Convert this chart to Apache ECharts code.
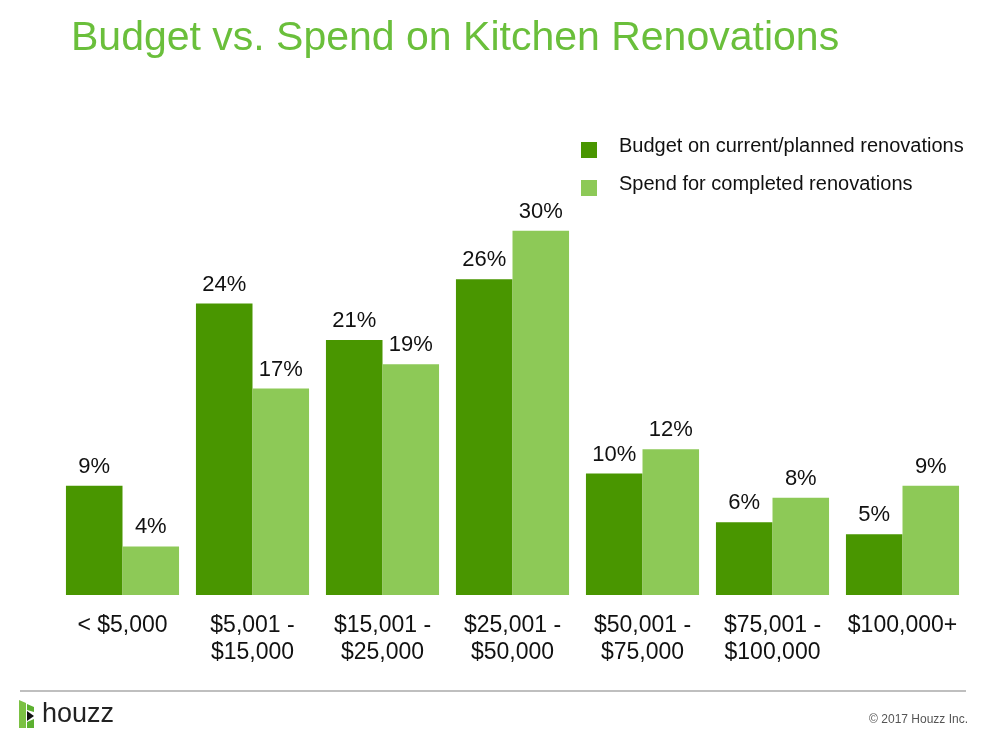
<!DOCTYPE html>
<html>
<head>
<meta charset="utf-8">
<title>Budget vs. Spend on Kitchen Renovations</title>
<script src="https://cdn.jsdelivr.net/npm/echarts@6/dist/echarts.min.js"></script>
<style>
  html, body { margin: 0; padding: 0; background: #fff; }
  #chart { width: 990px; height: 732px; }
</style>
</head>
<body>
<div id="chart"></div>
<script>
// categories and values
var categories = ['< $5,000', '$5,001 -\n$15,000', '$15,001 -\n$25,000', '$25,001 -\n$50,000',
  '$50,001 -\n$75,000', '$75,001 -\n$100,000', '$100,000+']
var budget = [9, 24, 21, 26, 10, 6, 5]
var spend = [4, 17, 19, 30, 12, 8, 9]
var seriesNames = ['Budget on current/planned renovations', 'Spend for completed renovations']

var darkGreen = '#499600'
var lightGreen = '#8dc957'
var font = 'Liberation Sans, Arial, sans-serif'

var chart = echarts.init(document.getElementById('chart'))

function barSeries(name, data, color) {
  return {
    name: name,
    type: 'bar',
    data: data,
    barGap: '0%',
    barCategoryGap: '13%',
    itemStyle: { color: color },
    label: {
      show: true,
      position: 'top',
      distance: 8,
      formatter: '{c}%',
      color: '#111',
      fontSize: 22,
      fontFamily: font
    }
  }
}

chart.setOption({
  animation: false,
  title: {
    text: 'Budget vs. Spend on Kitchen Renovations',
    left: 66,
    top: 13,
    textStyle: { color: '#6abf3b', fontSize: 41, fontWeight: 'normal', fontFamily: font }
  },
  legend: {
    orient: 'vertical',
    left: 576,
    top: 129,
    itemWidth: 16,
    itemHeight: 24,
    itemGap: 14,
    // square sits a little below the text centre, as on the slide
    icon: 'path://M0,0M0,8L16,8L16,24L0,24Z',
    selectedMode: false,
    textStyle: { color: '#111', fontSize: 20, fontFamily: font, padding: [0, 0, 0, 17] },
    data: seriesNames
  },
  grid: { left: 57.5, right: 22.5, top: 170, bottom: 137 },
  xAxis: {
    type: 'category',
    data: categories,
    axisLine: { show: false },
    axisTick: { show: false },
    axisLabel: {
      interval: 0,
      margin: 17,
      color: '#111',
      fontSize: 23,
      lineHeight: 27,
      verticalAlign: 'top',
      fontFamily: font
    }
  },
  yAxis: {
    type: 'value',
    min: 0,
    max: 35,
    show: false,
    splitLine: { show: false }
  },
  series: [
    barSeries(seriesNames[0], budget, darkGreen),
    barSeries(seriesNames[1], spend, lightGreen)
  ],
  graphic: [
    // footer rule
    { type: 'line', shape: { x1: 20, y1: 691, x2: 966, y2: 691 }, style: { stroke: '#aaa', lineWidth: 1.5 } },
    // houzz mark
    { type: 'polygon', shape: { points: [[19, 700], [26, 703], [26, 728], [19, 728]] }, style: { fill: '#7bc143' } },
    { type: 'polygon', shape: { points: [[27, 704], [34, 707], [34, 712], [27, 710]] }, style: { fill: '#5cb030' } },
    { type: 'polygon', shape: { points: [[27, 711], [34, 716], [27, 721]] }, style: { fill: '#111' } },
    { type: 'polygon', shape: { points: [[27, 722], [34, 719], [34, 728], [27, 728]] }, style: { fill: '#5cb030' } },
    {
      type: 'text', left: 42, top: 701,
      style: { text: 'houzz', fill: '#222', fontSize: 27, fontFamily: font }
    },
    {
      type: 'text', right: 22, top: 714,
      style: { text: '\u00a9 2017 Houzz Inc.', fill: '#555', fontSize: 12, fontFamily: font }
    }
  ]
})
</script>
</body>
</html>
